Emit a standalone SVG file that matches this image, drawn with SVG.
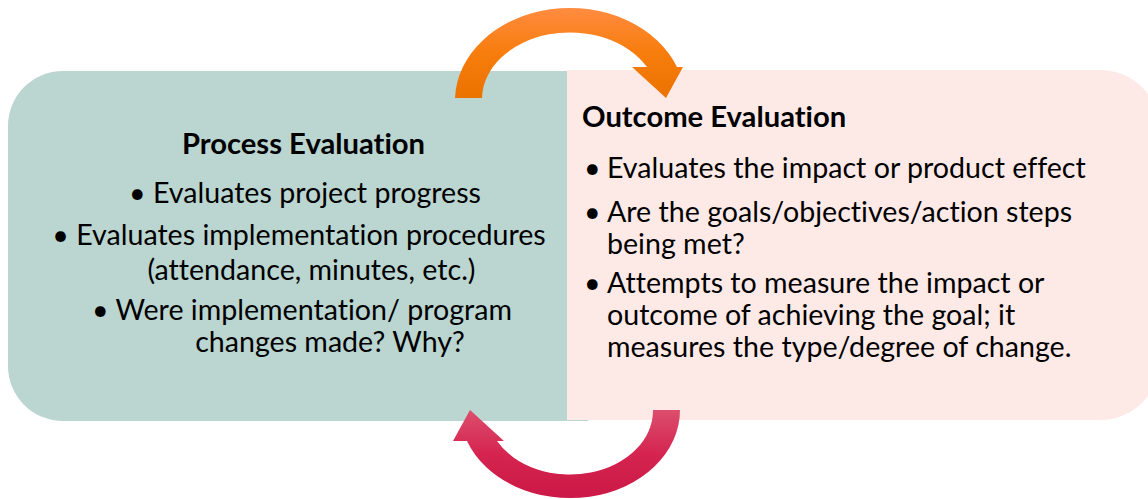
<svg xmlns="http://www.w3.org/2000/svg" width="1148" height="499" viewBox="0 0 1148 499">
<style>
.t{font-family:Lato,"Liberation Sans",sans-serif;font-size:28.6px;fill:#000;font-variant-ligatures:none}
.h{font-family:Lato,"Liberation Sans",sans-serif;font-size:29.2px;font-weight:bold;fill:#000;font-variant-ligatures:none}
.c{text-anchor:middle}
</style>
<defs>
<linearGradient id="gOr" x1="0" y1="0" x2="0" y2="1">
<stop offset="0" stop-color="#FF8B40"/>
<stop offset="0.5" stop-color="#F77D0C"/>
<stop offset="1" stop-color="#EC7200"/>
</linearGradient>
<linearGradient id="gRd" x1="0" y1="0" x2="0" y2="1">
<stop offset="0" stop-color="#DC4E6D"/>
<stop offset="0.5" stop-color="#D5244F"/>
<stop offset="1" stop-color="#CB1846"/>
</linearGradient>
</defs>
<g id="process">
<path d="M63,71 H588 V421 H63 A55,55 0 0 1 8,366 V126 A55,55 0 0 1 63,71 Z" fill="#BBD5D1"/>
</g>
<g id="outcome">
<path d="M567,70 H1100 A60,60 0 0 1 1160,130 V360 A60,60 0 0 1 1100,420 H567 Z" fill="#FDEAE7"/>
</g>
<g id="process-text">
<text class="h c" x="303.5" y="154">Process Evaluation</text>
<text class="t c" x="305" y="203">• Evaluates project progress</text>
<text class="t c" x="299" y="245">• Evaluates implementation procedures</text>
<text class="t c" x="311.5" y="280">(attendance, minutes, etc.)</text>
<text class="t c" x="302" y="320">• Were implementation/ program</text>
<text class="t c" x="330" y="352">changes made? Why?</text>
</g>
<g id="outcome-text">
<text class="h" x="582" y="127">Outcome Evaluation</text>
<text class="t" x="584" y="178">•</text>
<text class="t" x="607" y="178">Evaluates the impact or product effect</text>
<text class="t" x="584" y="222">•</text>
<text class="t" x="607" y="222">Are the goals/objectives/action steps</text>
<text class="t" x="607" y="254">being met?</text>
<text class="t" x="584" y="293">•</text>
<text class="t" x="607" y="293">Attempts to measure the impact or</text>
<text class="t" x="607" y="325">outcome of achieving the goal; it</text>
<text class="t" x="607" y="357">measures the type/degree of change.</text>
</g>
<g id="connectors">
<path id="arrow-top" d="M455,98 A115,93 0 0 1 677,67 L683,67 L666,98 L632,67 L647,67 A88,67 0 0 0 482,98 Z" fill="url(#gOr)"/>
<path id="arrow-bottom" d="M680,410 A110,88 0 0 1 467,441 L453,441 L470,410 L504,441 L497,441 A83,64 0 0 0 653,410 Z" fill="url(#gRd)"/>
</g>
</svg>
